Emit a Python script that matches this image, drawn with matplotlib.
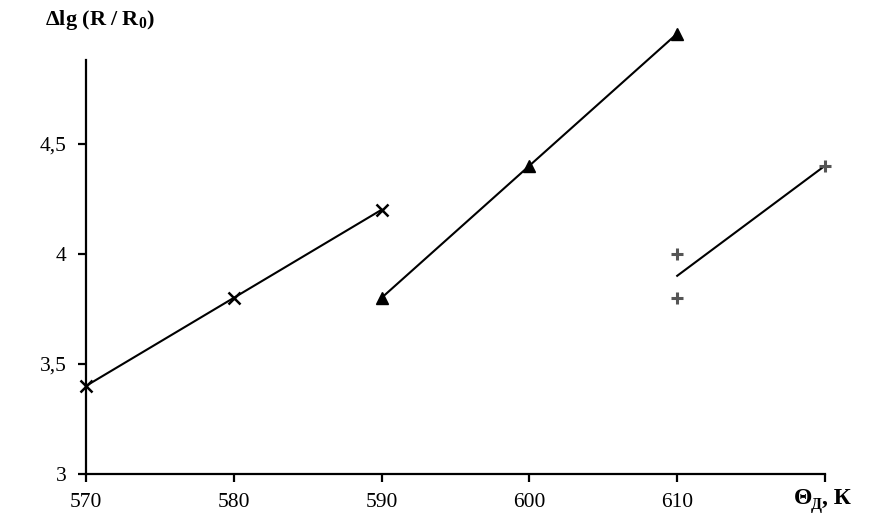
import matplotlib
matplotlib.use("Agg")
import matplotlib.pyplot as plt

plt.rcParams['font.family'] = ['Liberation Serif', 'DejaVu Serif']
plt.rcParams['mathtext.fontset'] = 'custom'
plt.rcParams['mathtext.rm'] = 'Liberation Serif'
plt.rcParams['mathtext.bf'] = 'Liberation Serif:bold'
plt.rcParams['mathtext.it'] = 'Liberation Serif:italic'

# Data
x_cross = [570, 580, 590]
y_cross = [3.4, 3.8, 4.2]
x_tri = [590, 600, 610]
y_tri = [3.8, 4.4, 5.0]
x_plus = [610, 610, 620]
y_plus = [4.0, 3.8, 4.4]
x_plus_fit = [610, 620]
y_plus_fit = [3.9, 4.4]
x_ticks = [570, 580, 590, 600, 610, 620]
x_ticklabels = ['570', '580', '590', '600', '610', '']
y_ticks = [3, 3.5, 4, 4.5]
y_ticklabels = ['3', '3,5', '4', '4,5']

fig = plt.figure(figsize=(8.91, 5.23), dpi=100)
ax = fig.add_axes([86/891, 1-474/523, (825-86)/891, (474-60)/523])

ax.plot(x_cross, y_cross, color='black', lw=1.5, marker='x', ms=8, mew=1.8, clip_on=False, zorder=3)
ax.plot(x_tri, y_tri, color='black', lw=1.5, marker='^', ms=8.5, clip_on=False, zorder=3)
ax.plot(x_plus_fit, y_plus_fit, color='black', lw=1.5, clip_on=False, zorder=2)
ax.plot(x_plus, y_plus, ls='none', color='#555555', marker='+', ms=8, mew=2.2, clip_on=False, zorder=3)

ax.set_xlim(570, 620)
ax.set_ylim(3, 4.88)
ax.set_xticks(x_ticks)
ax.set_xticklabels(x_ticklabels)
ax.set_yticks(y_ticks)
ax.set_yticklabels(y_ticklabels)
ax.spines['top'].set_visible(False)
ax.spines['right'].set_visible(False)
for s in ['left', 'bottom']:
    ax.spines[s].set_linewidth(1.6)
ax.tick_params(direction='out', length=6, width=1.6, labelsize=15.5, pad=8)

fig.text(45/891, 1-20/523, r'$\mathbf{\Delta lg\ (R\ /\ R}_{\mathbf{0}}\mathbf{)}$', fontsize=16, va='center', ha='left')
fig.text(794/891, 1-498/523, 'Θ', fontsize=17, fontweight='bold', va='center', ha='left')
fig.text(811/891, 1-505/523, 'Д', fontsize=11.5, fontweight='bold', va='center', ha='left')
fig.text(822/891, 1-498/523, ', К', fontsize=17, fontweight='bold', va='center', ha='left')

fig.savefig('out.png', dpi=100)
